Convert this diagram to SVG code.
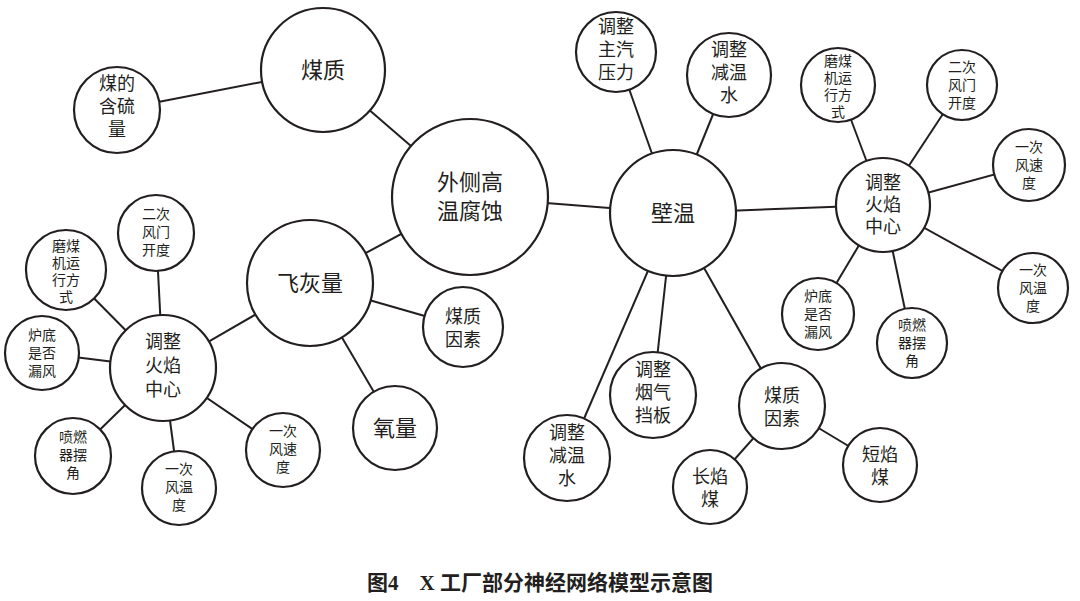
<svg xmlns="http://www.w3.org/2000/svg" width="1080" height="601" viewBox="0 0 1080 601">
<style>
circle{fill:#fff;stroke:#231f20;stroke-width:2.2}
line{stroke:#231f20;stroke-width:2}
text{font-family:"Noto Sans CJK SC","Liberation Serif",serif;fill:#231f20;text-anchor:middle}
.b{font-size:22px}.m{font-size:18px}.s{font-size:14px}
.cap{font-family:"Liberation Serif","Noto Sans CJK SC",serif;font-weight:bold;font-size:21px}
</style>
<rect width="1080" height="601" fill="#fff"/>
<g id="connectors">
<line x1="470" y1="197" x2="323" y2="70"/><line x1="323" y1="70" x2="117" y2="110"/>
<line x1="470" y1="197" x2="310" y2="283"/><line x1="310" y1="283" x2="463" y2="327"/>
<line x1="310" y1="283" x2="395" y2="428"/><line x1="310" y1="283" x2="163" y2="368"/>
<line x1="163" y1="368" x2="156" y2="233"/><line x1="163" y1="368" x2="66" y2="270"/>
<line x1="163" y1="368" x2="42" y2="353"/><line x1="163" y1="368" x2="73" y2="456"/>
<line x1="163" y1="368" x2="179" y2="488"/><line x1="163" y1="368" x2="283" y2="450"/>
<line x1="470" y1="197" x2="673" y2="213"/>
<line x1="673" y1="213" x2="616" y2="52"/><line x1="673" y1="213" x2="729" y2="75"/>
<line x1="673" y1="213" x2="653" y2="395"/><line x1="673" y1="213" x2="567" y2="458"/>
<line x1="673" y1="213" x2="782" y2="406"/><line x1="782" y1="406" x2="710" y2="487"/>
<line x1="782" y1="406" x2="880" y2="465"/><line x1="673" y1="213" x2="883" y2="205"/>
<line x1="883" y1="205" x2="838" y2="85"/><line x1="883" y1="205" x2="962" y2="85"/>
<line x1="883" y1="205" x2="1029" y2="165"/><line x1="883" y1="205" x2="1033" y2="288"/>
<line x1="883" y1="205" x2="818" y2="314"/><line x1="883" y1="205" x2="912" y2="343"/>
</g>
<g id="n1"><circle cx="470" cy="197" r="78"/><text class="b" x="470" y="190">外侧高</text><text class="b" x="470" y="219">温腐蚀</text></g>
<g id="n2"><circle cx="323" cy="70" r="62"/><text class="b" x="323" y="78">煤质</text></g>
<g id="n3"><circle cx="117" cy="110" r="43"/><text class="m" x="117" y="90">煤的</text><text class="m" x="117" y="113">含硫</text><text class="m" x="117" y="136">量</text></g>
<g id="n4"><circle cx="310" cy="283" r="63"/><text class="b" x="310" y="291">飞灰量</text></g>
<g id="n5"><circle cx="463" cy="327" r="40"/><text class="m" x="463" y="323">煤质</text><text class="m" x="463" y="346">因素</text></g>
<g id="n6"><circle cx="395" cy="428" r="42"/><text class="b" x="395" y="436">氧量</text></g>
<g id="n7"><circle cx="163" cy="368" r="53"/><text class="m" x="163" y="348">调整</text><text class="m" x="163" y="372">火焰</text><text class="m" x="163" y="396">中心</text></g>
<g id="n8"><circle cx="156" cy="233" r="38"/><text class="s" x="156" y="219">二次</text><text class="s" x="156" y="237">风门</text><text class="s" x="156" y="255">开度</text></g>
<g id="n9"><circle cx="66" cy="270" r="40"/><text class="s" x="66" y="251">磨煤</text><text class="s" x="66" y="268">机运</text><text class="s" x="66" y="285">行方</text><text class="s" x="66" y="302">式</text></g>
<g id="n10"><circle cx="42" cy="353" r="37"/><text class="s" x="42" y="340">炉底</text><text class="s" x="42" y="358">是否</text><text class="s" x="42" y="376">漏风</text></g>
<g id="n11"><circle cx="73" cy="456" r="38"/><text class="s" x="73" y="442">喷燃</text><text class="s" x="73" y="460">器摆</text><text class="s" x="73" y="478">角</text></g>
<g id="n12"><circle cx="179" cy="488" r="37"/><text class="s" x="179" y="474">一次</text><text class="s" x="179" y="492">风温</text><text class="s" x="179" y="510">度</text></g>
<g id="n13"><circle cx="283" cy="450" r="37"/><text class="s" x="283" y="436">一次</text><text class="s" x="283" y="454">风速</text><text class="s" x="283" y="472">度</text></g>
<g id="n14"><circle cx="673" cy="213" r="63"/><text class="b" x="673" y="221">壁温</text></g>
<g id="n15"><circle cx="616" cy="52" r="40"/><text class="m" x="616" y="33">调整</text><text class="m" x="616" y="56">主汽</text><text class="m" x="616" y="79">压力</text></g>
<g id="n16"><circle cx="729" cy="75" r="42"/><text class="m" x="729" y="56">调整</text><text class="m" x="729" y="79">减温</text><text class="m" x="729" y="102">水</text></g>
<g id="n17"><circle cx="653" cy="395" r="43"/><text class="m" x="653" y="376">调整</text><text class="m" x="653" y="399">烟气</text><text class="m" x="653" y="422">挡板</text></g>
<g id="n18"><circle cx="567" cy="458" r="43"/><text class="m" x="567" y="439">调整</text><text class="m" x="567" y="462">减温</text><text class="m" x="567" y="485">水</text></g>
<g id="n19"><circle cx="782" cy="406" r="43"/><text class="m" x="782" y="402">煤质</text><text class="m" x="782" y="425">因素</text></g>
<g id="n20"><circle cx="710" cy="487" r="37"/><text class="m" x="710" y="483">长焰</text><text class="m" x="710" y="506">煤</text></g>
<g id="n21"><circle cx="880" cy="465" r="37"/><text class="m" x="880" y="461">短焰</text><text class="m" x="880" y="484">煤</text></g>
<g id="n22"><circle cx="883" cy="205" r="47"/><text class="m" x="883" y="189">调整</text><text class="m" x="883" y="211">火焰</text><text class="m" x="883" y="233">中心</text></g>
<g id="n23"><circle cx="838" cy="85" r="37"/><text class="s" x="838" y="66">磨煤</text><text class="s" x="838" y="83">机运</text><text class="s" x="838" y="100">行方</text><text class="s" x="838" y="117">式</text></g>
<g id="n24"><circle cx="962" cy="85" r="35"/><text class="s" x="962" y="72">二次</text><text class="s" x="962" y="90">风门</text><text class="s" x="962" y="108">开度</text></g>
<g id="n25"><circle cx="1029" cy="165" r="36"/><text class="s" x="1029" y="152">一次</text><text class="s" x="1029" y="170">风速</text><text class="s" x="1029" y="188">度</text></g>
<g id="n26"><circle cx="1033" cy="288" r="35"/><text class="s" x="1033" y="275">一次</text><text class="s" x="1033" y="293">风温</text><text class="s" x="1033" y="311">度</text></g>
<g id="n27"><circle cx="818" cy="314" r="36"/><text class="s" x="818" y="301">炉底</text><text class="s" x="818" y="319">是否</text><text class="s" x="818" y="337">漏风</text></g>
<g id="n28"><circle cx="912" cy="343" r="35"/><text class="s" x="912" y="330">喷燃</text><text class="s" x="912" y="348">器摆</text><text class="s" x="912" y="366">角</text></g>
<text class="cap" x="540" y="590">图4　X 工厂部分神经网络模型示意图</text>
</svg>
